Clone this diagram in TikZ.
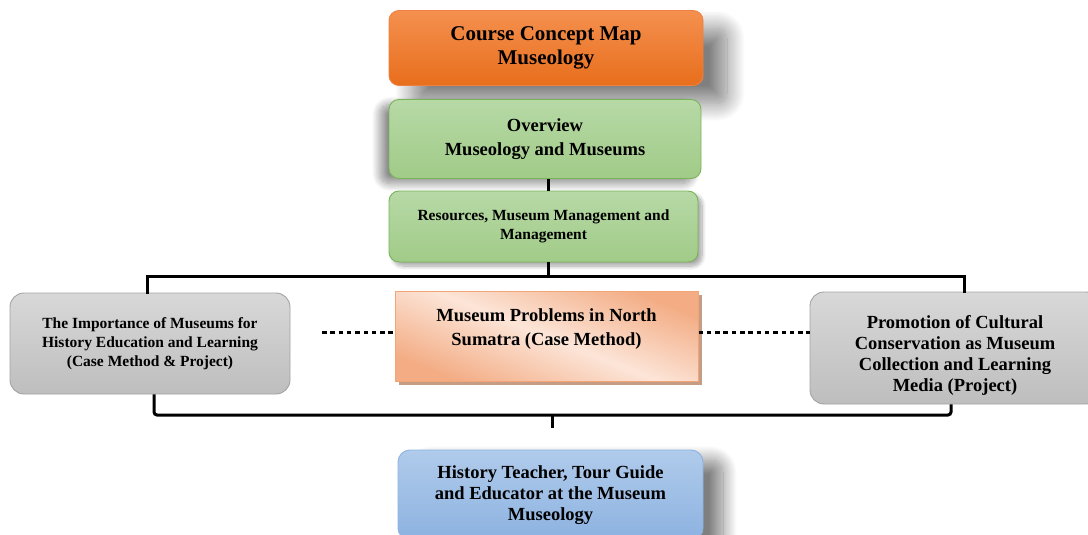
\documentclass[tikz,border=0pt]{standalone}
\usepackage{fontspec}
\setmainfont{Liberation Serif}
\usetikzlibrary{shadows,shadows.blur,calc}
\definecolor{orTop}{HTML}{F4904F}
\definecolor{orBot}{HTML}{E86E1C}
\definecolor{orLine}{HTML}{EE8040}
\definecolor{grTop}{HTML}{B7D9A6}
\definecolor{grBot}{HTML}{A1CB88}
\definecolor{grLine}{HTML}{78B357}
\definecolor{gyTop}{HTML}{D8D8D8}
\definecolor{gyBot}{HTML}{BEBEBE}
\definecolor{gyLine}{HTML}{A3A3A3}
\definecolor{blTop}{HTML}{B0CBEB}
\definecolor{blBot}{HTML}{8DB2E0}
\definecolor{pcDark}{HTML}{F3AC84}
\definecolor{pcLight}{HTML}{FCE5D8}
\definecolor{pcLine}{HTML}{F2A677}
\definecolor{pcShadow}{HTML}{C59C84}
\begin{document}
\begin{tikzpicture}[x=1pt,y=-1pt,
  boxbase/.style={rounded corners=10pt, align=center, inner sep=0pt, line width=0.9pt},
  orangebox/.style={boxbase, top color=orTop, bottom color=orBot, draw=orLine,
     font=\fontsize{21}{24}\selectfont\bfseries},
  greenbox/.style={boxbase, top color=grTop, bottom color=grBot, draw=grLine},
  graybox/.style={boxbase, rounded corners=14pt, top color=gyTop, bottom color=gyBot, draw=gyLine},
  bluebox/.style={boxbase, rounded corners=12pt, top color=blTop, bottom color=blBot, draw=blBot,
     font=\fontsize{18.5}{21}\selectfont\bfseries},
  peachbox/.style={align=center, inner sep=0pt, line width=1pt, draw=pcLine,
     shading=axis, top color=pcDark, bottom color=pcDark, middle color=pcLight, shading angle=-22,
     font=\fontsize{18.5}{24}\selectfont\bfseries},
  topshadow/.style={blur shadow={shadow xshift=24pt, shadow yshift=-18pt, shadow blur radius=18pt, shadow opacity=50, shadow blur steps=24}},
  leftshadow/.style={blur shadow={shadow xshift=-9pt, shadow yshift=-5pt, shadow blur radius=8pt, shadow opacity=45, shadow blur steps=16}},
  rightshadow/.style={blur shadow={shadow xshift=20pt, shadow yshift=-10pt, shadow blur radius=14pt, shadow opacity=50, shadow blur steps=20}},
  smallshadow/.style={blur shadow={shadow xshift=4pt, shadow yshift=-4pt, shadow blur radius=4pt, shadow opacity=35, shadow blur steps=10}},
  conn/.style={line width=3pt, black},
  dotconn/.style={line width=3pt, black, dash pattern=on 4.5pt off 3.8pt}
]
\useasboundingbox (0,0) rectangle (1088,535);
\clip (0,0) rectangle (1088,535);

% nodes
\node[orangebox, topshadow, minimum width=314pt, minimum height=75pt] (top) at (546,48)
      {Course Concept Map\\Museology};
\node[greenbox, leftshadow, minimum width=312pt, minimum height=79pt,
      font=\fontsize{18.5}{24}\selectfont\bfseries] (overview) at (545,139)
      {Overview\\Museology and Museums};
\node[greenbox, smallshadow, minimum width=309pt, minimum height=71pt,
      font=\fontsize{15.5}{19}\selectfont\bfseries] (res) at (543.5,226.5)
      {Resources, Museum Management and\\Management};
\node[graybox, minimum width=280pt, minimum height=101pt,
      font=\fontsize{15.5}{19}\selectfont\bfseries] (left) at (150,343.5)
      {The Importance of Museums for\\History Education and Learning\\(Case Method \& Project)};
\node[peachbox, drop shadow={shadow xshift=4pt, shadow yshift=-4pt, fill=pcShadow, opacity=1},
      minimum width=303pt, minimum height=90pt] (mid) at (546.5,336)
      {Museum Problems in North\\Sumatra (Case Method)\rule[-17pt]{0pt}{1pt}};
\node[graybox, minimum width=290pt, minimum height=112pt,
      font=\fontsize{18.5}{21}\selectfont\bfseries] (right) at (955,348)
      {\rule{0pt}{27pt}Promotion of Cultural\\Conservation as Museum\\Collection and Learning\\Media (Project)};
\node[bluebox, rightshadow, minimum width=305pt, minimum height=90pt] (bottom) at (550.5,495)
      {History Teacher, Tour Guide\\and Educator at the Museum\\Museology};

% connectors
\coordinate (busL) at (147,276);
\coordinate (busR) at (964,276);
\draw[conn] ([xshift=3.5pt]overview.south) -- ([xshift=3.5pt]overview.south |- res.north);
\draw[conn] ([xshift=5pt]res.south) -- ([xshift=5pt]res.south |- busL);
\draw[conn, line cap=rect] (busL |- left.north) -- (busL) -- (busR) -- (busR |- right.north);

\coordinate (brL) at (154,415);
\coordinate (brR) at (951,415);
\draw[conn, rounded corners=3pt] (brL |- left.south) -- (brL) -- (brR) -- (brR |- right.south);
\draw[conn] (552,415) -- (552,428);

\coordinate (dotL) at (322,332);
\draw[dotconn] (dotL) -- (dotL -| mid.west);
\draw[dotconn] ([yshift=4pt]mid.east) -- ([yshift=4pt]mid.east -| right.west);
\end{tikzpicture}
\end{document}
